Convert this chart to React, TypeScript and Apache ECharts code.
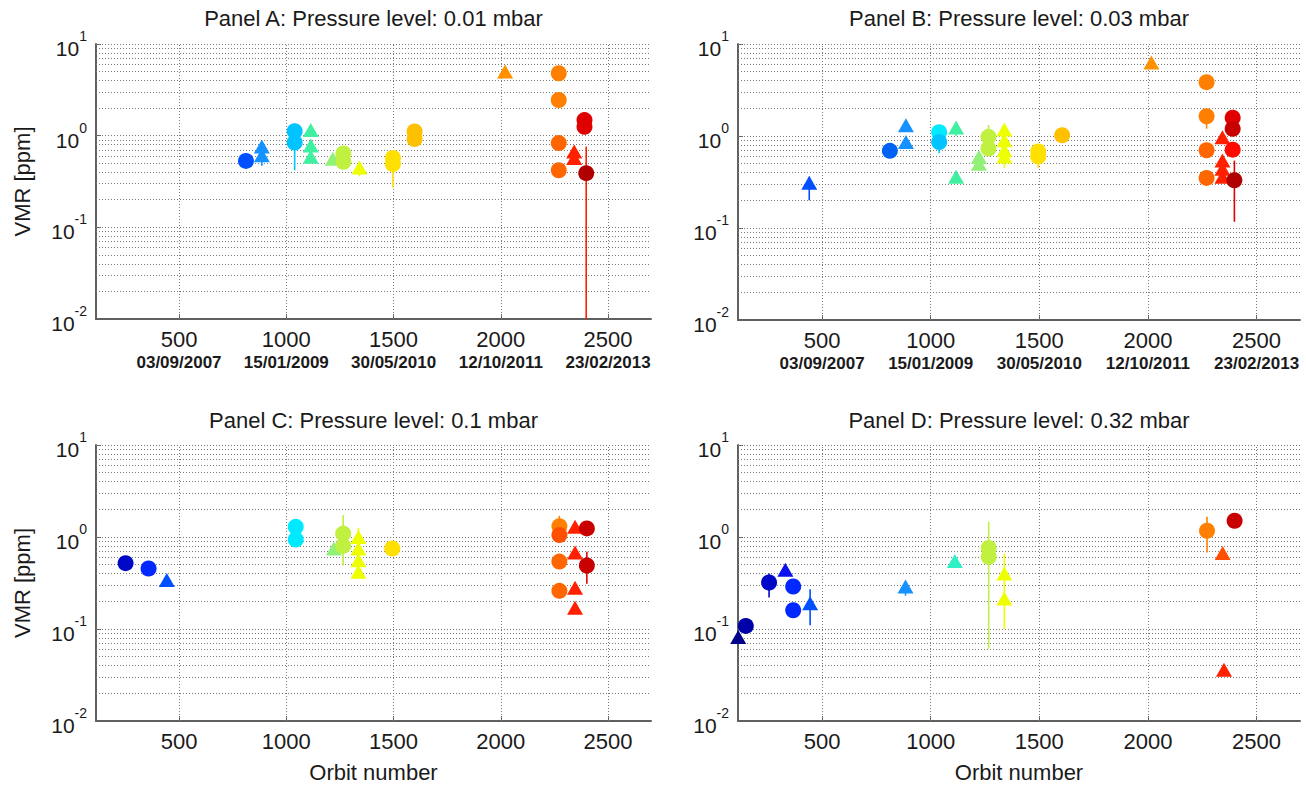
import React, { useEffect, useRef } from 'react';
import * as echarts from 'echarts';

const FONT = '"Liberation Sans", Arial, Helvetica, sans-serif';
const TEXT = '#1a1a1a';
const GRID_COLOR = '#7a7a7a';
const AXIS_COLOR = '#606060';

// ---- axes ----
const X_TICKS = [500, 1000, 1500, 2000, 2500];
const DATE_LABELS = ['03/09/2007', '15/01/2009', '30/05/2010', '12/10/2011', '23/02/2013'];
const X_MIN = 113;
const X_MAX = 2700;
const Y_MIN = 0.01;
const Y_MAX = 10;
const Y_MAJOR = [0.1, 1, 10];

const TITLES = [
  'Panel A: Pressure level: 0.01 mbar',
  'Panel B: Pressure level: 0.03 mbar',
  'Panel C: Pressure level: 0.1 mbar',
  'Panel D: Pressure level: 0.32 mbar',
];

// ---- colour keys (jet-like) ----
const PALETTE: Record<string, string> = {
  navy1: '#000088', navy2: '#0000a8', db: '#0008c8', b1: '#0a10ee', b2: '#0028ff', b3: '#0050ff',
  b4: '#0062f2', az: '#1592ff', cy1: '#00c4ff', cy2: '#00eaff', aq: '#40f0a0', tq: '#30f0c8',
  lg: '#90f078', yg: '#c0f040', ye: '#eeff00', gy: '#ffe000', go: '#ffc000', or1: '#ff9000',
  or2: '#ff8000', or3: '#ff6600', or4: '#ff5000', rd1: '#ff2000', rd2: '#ff0a00',
  dr1: '#e00000', dr2: '#c80000', dr3: '#b00000',
};

// ---- Panel A (0.01 mbar) ----
const aOrbit = [812, 886, 886, 1039, 1039, 1114, 1114, 1114, 1217, 1266, 1266, 1341, 1497, 1497, 1598, 1598, 2020, 2270, 2270, 2270, 2270, 2342, 2342, 2390, 2390, 2398];
const aVmr = [0.53, 0.76, 0.61, 1.12, 0.84, 1.15, 0.78, 0.59, 0.56, 0.64, 0.52, 0.45, 0.57, 0.49, 1.11, 0.92, 5.0, 4.8, 2.45, 0.83, 0.42, 0.67, 0.57, 1.48, 1.25, 0.39];
const aShape = ['c', 't', 't', 'c', 'c', 't', 't', 't', 't', 'c', 'c', 't', 'c', 'c', 'c', 'c', 't', 'c', 'c', 'c', 'c', 't', 't', 'c', 'c', 'c'];
const aColor = ['b3', 'az', 'az', 'cy1', 'cy1', 'aq', 'aq', 'aq', 'lg', 'yg', 'yg', 'ye', 'gy', 'gy', 'go', 'go', 'or1', 'or2', 'or2', 'or3', 'or3', 'rd1', 'rd1', 'dr1', 'dr1', 'dr3'];
const aErrOrbit = [812, 886, 1039, 1341, 1497, 2398];
const aErrLow = [0.45, 0.47, 0.42, 0.36, 0.27, 0.01];
const aErrHigh = [0.6, 0.8, 1.35, 0.5, 0.6, 0.76];
const aErrColor = ['b3', 'az', 'cy1', 'ye', 'gy', 'rd1'];

// ---- Panel B (0.03 mbar) ----
const bOrbit = [441, 812, 886, 886, 1039, 1039, 1117, 1117, 1222, 1222, 1266, 1266, 1339, 1339, 1339, 1339, 1495, 1495, 1605, 2016, 2270, 2270, 2270, 2270, 2343, 2343, 2343, 2343, 2390, 2390, 2390, 2398];
const bVmr = [0.31, 0.69, 1.31, 0.86, 1.1, 0.86, 1.24, 0.36, 0.59, 0.5, 0.98, 0.73, 1.18, 0.9, 0.7, 0.6, 0.68, 0.6, 1.02, 6.3, 3.85, 1.64, 0.7, 0.35, 0.97, 0.54, 0.44, 0.36, 1.58, 1.2, 0.71, 0.33];
const bShape = ['t', 'c', 't', 't', 'c', 'c', 't', 't', 't', 't', 'c', 'c', 't', 't', 't', 't', 'c', 'c', 'c', 't', 'c', 'c', 'c', 'c', 't', 't', 't', 't', 'c', 'c', 'c', 'c'];
const bColor = ['b3', 'b4', 'az', 'az', 'cy2', 'cy1', 'aq', 'aq', 'lg', 'lg', 'yg', 'yg', 'ye', 'ye', 'ye', 'ye', 'gy', 'gy', 'go', 'or1', 'or2', 'or2', 'or3', 'or3', 'rd1', 'rd1', 'rd1', 'rd1', 'dr1', 'dr2', 'rd2', 'dr3'];
const bErrOrbit = [441, 1039, 1117, 1222, 1266, 1339, 1495, 2270, 2398];
const bErrLow = [0.2, 0.65, 1.0, 0.42, 0.7, 0.45, 0.45, 1.2, 0.117];
const bErrHigh = [0.36, 1.2, 1.35, 0.62, 1.32, 1.25, 0.72, 1.8, 0.54];
const bErrColor = ['b3', 'cy1', 'aq', 'lg', 'yg', 'ye', 'gy', 'or2', 'dr1'];

// ---- Panel C (0.1 mbar) ----
const cOrbit = [251, 358, 443, 1044, 1044, 1222, 1265, 1265, 1336, 1336, 1336, 1336, 1494, 2273, 2273, 2273, 2273, 2346, 2346, 2346, 2346, 2401, 2401];
const cVmr = [0.52, 0.455, 0.34, 1.29, 0.94, 0.75, 1.09, 0.8, 1.0, 0.75, 0.56, 0.42, 0.75, 1.31, 1.05, 0.54, 0.26, 1.29, 0.68, 0.28, 0.17, 1.24, 0.49];
const cShape = ['c', 'c', 't', 'c', 'c', 't', 'c', 'c', 't', 't', 't', 't', 'c', 'c', 'c', 'c', 'c', 't', 't', 't', 't', 'c', 'c'];
const cColor = ['db', 'b2', 'b3', 'cy2', 'cy2', 'lg', 'yg', 'yg', 'ye', 'ye', 'ye', 'ye', 'gy', 'or2', 'or4', 'or3', 'or3', 'rd1', 'rd1', 'rd1', 'rd1', 'dr2', 'dr2'];
const cErrOrbit = [1265, 1336, 2273, 2401];
const cErrLow = [0.49, 0.42, 1.0, 0.31];
const cErrHigh = [1.73, 1.25, 1.7, 0.69];
const cErrColor = ['yg', 'ye', 'or2', 'dr1'];

// ---- Panel D (0.32 mbar) ----
const dOrbit = [114, 149, 256, 331, 367, 367, 445, 884, 1111, 1267, 1267, 1339, 1339, 2272, 2344, 2350, 2399];
const dVmr = [0.082, 0.108, 0.32, 0.44, 0.29, 0.16, 0.19, 0.29, 0.55, 0.76, 0.61, 0.4, 0.215, 1.17, 0.67, 0.036, 1.5];
const dShape = ['t', 'c', 'c', 't', 'c', 'c', 't', 't', 't', 'c', 'c', 't', 't', 'c', 't', 't', 'c'];
const dColor = ['navy1', 'navy2', 'db', 'b1', 'b2', 'b2', 'b3', 'az', 'tq', 'yg', 'yg', 'ye', 'ye', 'or2', 'or4', 'rd1', 'dr2'];
const dErrOrbit = [256, 445, 884, 1267, 1339, 2272, 2344];
const dErrLow = [0.22, 0.11, 0.23, 0.061, 0.1, 0.68, 0.6];
const dErrHigh = [0.4, 0.27, 0.3, 1.47, 0.66, 1.66, 0.7];
const dErrColor = ['db', 'b3', 'az', 'yg', 'ye', 'or2', 'or4'];

const PANELS = [
  { orbit: aOrbit, vmr: aVmr, shape: aShape, color: aColor, eo: aErrOrbit, el: aErrLow, eh: aErrHigh, ec: aErrColor },
  { orbit: bOrbit, vmr: bVmr, shape: bShape, color: bColor, eo: bErrOrbit, el: bErrLow, eh: bErrHigh, ec: bErrColor },
  { orbit: cOrbit, vmr: cVmr, shape: cShape, color: cColor, eo: cErrOrbit, el: cErrLow, eh: cErrHigh, ec: cErrColor },
  { orbit: dOrbit, vmr: dVmr, shape: dShape, color: dColor, eo: dErrOrbit, el: dErrLow, eh: dErrHigh, ec: dErrColor },
];

// ---- layout ----
const GRIDS = [
  { left: 96, top: 44, width: 555, height: 275 },
  { left: 738, top: 44, width: 562, height: 276 },
  { left: 96, top: 445, width: 555, height: 276 },
  { left: 738, top: 445, width: 562, height: 276 },
];

function minorYValues(): number[] {
  const out: number[] = [];
  for (let e = -2; e < 1; e++) {
    for (let m = 2; m <= 9; m++) out.push(Number((m * Math.pow(10, e)).toPrecision(3)));
  }
  return out;
}

function buildOption() {
  const gridLines = [
    ...X_TICKS.map((x) => ({ xAxis: x })),
    ...[...minorYValues(), ...Y_MAJOR].map((y) => ({ yAxis: y })),
  ];
  const grid = GRIDS.map((g) => ({ ...g, containLabel: false, show: false }));

  const xAxis = GRIDS.map((_, i) => {
    const withDates = i < 2;
    return {
      type: 'value',
      gridIndex: i,
      min: X_MIN,
      max: X_MAX,
      axisLine: { show: true, onZero: false, lineStyle: { color: AXIS_COLOR, width: 2 } },
      axisTick: { show: true, inside: true, length: 5, customValues: X_TICKS, lineStyle: { color: AXIS_COLOR, width: 1 } },
      splitLine: { show: false },
      axisLabel: withDates
        ? {
            customValues: X_TICKS,
            margin: 8,
            formatter: (v: number) => `{n|${String(v)}}\n{d|${DATE_LABELS[X_TICKS.indexOf(Number(v))] ?? ''}}`,
            rich: {
              n: { fontSize: 22, fontFamily: FONT, color: TEXT, lineHeight: 24 },
              d: { fontSize: 17, fontWeight: 'bold', fontFamily: FONT, color: TEXT, lineHeight: 22 },
            },
          }
        : {
            customValues: X_TICKS,
            margin: 9,
            fontSize: 22,
            fontFamily: FONT,
            color: TEXT,
            formatter: (v: number) => String(v),
          },
    };
  });

  const yAxis = GRIDS.map((_, i) => ({
    type: 'log',
    logBase: 10,
    gridIndex: i,
    min: Y_MIN,
    max: Y_MAX,
    axisLine: { show: true, onZero: false, lineStyle: { color: AXIS_COLOR, width: 2 } },
    axisTick: { show: true, inside: true, length: 5, lineStyle: { color: AXIS_COLOR } },
    splitLine: { show: false },
    minorTick: { show: false },
    axisLabel: {
      margin: 9,
      formatter: (v: number) => `{b|10}{s|${Math.round(Math.log10(v))}}`,
      rich: {
        b: { fontSize: 21, fontFamily: FONT, color: TEXT, lineHeight: 30, verticalAlign: 'bottom' },
        s: { fontSize: 14, fontFamily: FONT, color: TEXT, lineHeight: 30, verticalAlign: 'top' },
      },
    },
  }));

  const series: any[] = [];
  PANELS.forEach((p, i) => {
    series.push({
      type: 'custom',
      xAxisIndex: i,
      yAxisIndex: i,
      clip: false,
      z: 2,
      data: p.eo.map((o, k) => [o, p.el[k], p.eh[k]]),
      encode: { x: 0, y: [1, 2] },
      renderItem: (params: any, api: any) => {
        const x = api.value(0);
        const a = api.coord([x, api.value(1)]);
        const b = api.coord([x, api.value(2)]);
        return {
          type: 'line',
          shape: { x1: a[0], y1: a[1], x2: b[0], y2: b[1] },
          style: { stroke: PALETTE[p.ec[params.dataIndex]], lineWidth: 1.6 },
        };
      },
      markLine: {
        silent: true,
        z: 1,
        symbol: ['none', 'none'],
        label: { show: false },
        emphasis: { disabled: true },
        lineStyle: { type: [1, 2], color: GRID_COLOR, width: 1 },
        data: gridLines,
      },
    });
    series.push({
      type: 'scatter',
      xAxisIndex: i,
      yAxisIndex: i,
      clip: false,
      z: 3,
      emphasis: { disabled: true },
      data: p.orbit.map((o, k) => ({
        value: [o, p.vmr[k]],
        symbol: p.shape[k] === 't' ? 'triangle' : 'circle',
        symbolSize: p.shape[k] === 't' ? [16, 14] : 16,
        itemStyle: { color: PALETTE[p.color[k]], opacity: 1 },
      })),
    });
  });

  const graphic: any[] = [];
  GRIDS.forEach((g, i) => {
    const cx = g.left + g.width / 2;
    graphic.push({
      type: 'text',
      x: cx,
      y: i < 2 ? 18 : 420,
      style: { text: TITLES[i], fill: TEXT, fontSize: 22, fontFamily: FONT, textAlign: 'center', textVerticalAlign: 'middle' },
    });
    if (i % 2 === 0) {
      graphic.push({
        type: 'text',
        x: 22,
        y: g.top + g.height / 2,
        rotation: Math.PI / 2,
        style: { text: 'VMR [ppm]', fill: TEXT, fontSize: 22, fontFamily: FONT, textAlign: 'center', textVerticalAlign: 'middle' },
      });
    }
    if (i >= 2) {
      graphic.push({
        type: 'text',
        x: cx,
        y: 772,
        style: { text: 'Orbit number', fill: TEXT, fontSize: 22, fontFamily: FONT, textAlign: 'center', textVerticalAlign: 'middle' },
      });
    }
  });

  return {
    animation: false,
    backgroundColor: '#ffffff',
    grid,
    xAxis,
    yAxis,
    series,
    graphic,
  };
}

export default function App() {
  const ref = useRef<HTMLDivElement>(null);
  useEffect(() => {
    if (!ref.current) return;
    const chart = echarts.init(ref.current, undefined, { renderer: 'svg' });
    chart.setOption(buildOption() as any);
    return () => chart.dispose();
  }, []);
  return (
    <div
      ref={ref}
      style={{ position: 'absolute', left: 0, top: 0, width: 1306, height: 785, background: '#fff' }}
    />
  );
}
